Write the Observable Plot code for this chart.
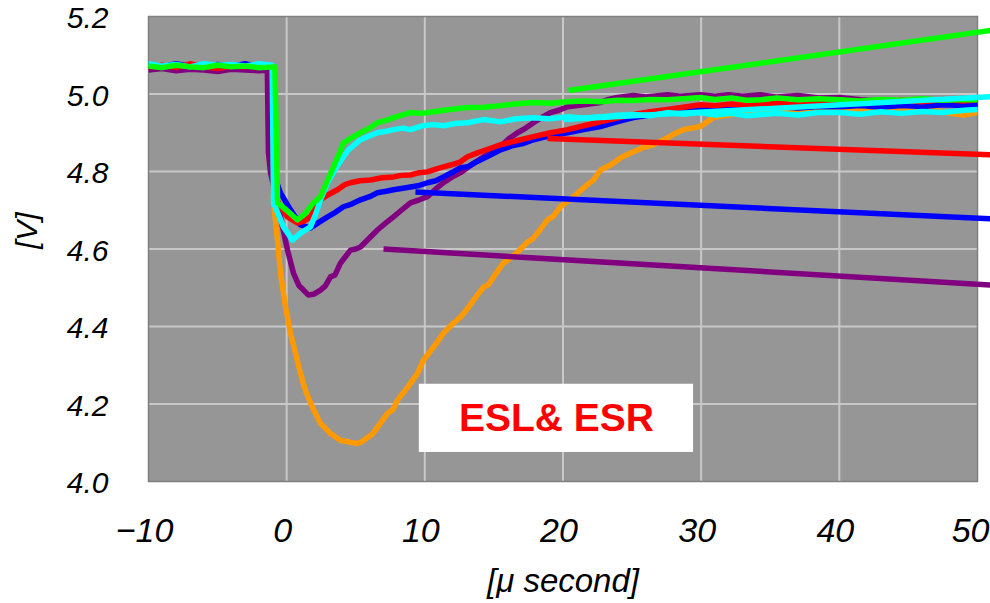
<!DOCTYPE html>
<html><head><meta charset="utf-8">
<script src="https://cdn.jsdelivr.net/npm/d3@7"></script>
<script src="https://cdn.jsdelivr.net/npm/@observablehq/plot@0.6"></script>
<style>body{margin:0;background:#fff;} svg{display:block;}</style>
</head><body><div id="chart"></div>
<script>
const xTicks = [-10, 0, 10, 20, 30, 40, 50];
const yTicks = [4.0, 4.2, 4.4, 4.6, 4.8, 5.0, 5.2];
const xGrid = [0, 10, 20, 30, 40];
const yGrid = [4.2, 4.4, 4.6, 4.8, 5.0];

const orange = [[-10,5.068],[-9,5.072],[-8,5.066],[-7,5.070],[-6,5.074],[-5,5.068],[-4,5.070],[-3,5.066],[-2,5.072],[-1.05,5.068],
[-0.95,4.72],[-0.66,4.623],[-0.45,4.538],[-0.08,4.450],[0.28,4.383],[0.64,4.331],[1.00,4.279],[1.36,4.235],[1.87,4.191],[2.45,4.150],[3.17,4.124],[3.90,4.106],[4.3,4.104],[4.62,4.101],[5.13,4.098],[5.5,4.104],[5.85,4.114],[6.2,4.122],[6.57,4.140],[7.30,4.176],[7.7,4.186],[8.02,4.210],[8.75,4.243],[9.47,4.279],[9.90,4.313],[10.63,4.347],[11.35,4.383],[12.07,4.409],[12.58,4.424],[13.1,4.447],[13.52,4.468],[14.25,4.502],[14.6,4.508],[14.97,4.528],[15.69,4.564],[16.2,4.576],[16.71,4.592],[17.43,4.618],[17.8,4.626],[18.15,4.641],[18.88,4.675],[19.3,4.684],[19.82,4.709],[20.76,4.735],[21.3,4.752],[21.77,4.766],[22.21,4.778],[22.71,4.804],[23.5,4.818],[24.2,4.836],[25.10,4.851],[25.8,4.862],[26.5,4.868],[27.56,4.887],[28.2,4.900],[28.72,4.908],[29.95,4.916],[30.5,4.930],[30.89,4.939],[32.12,4.947],[33,4.952],[34,4.956],[35,4.958],[36,4.962],[37,4.958],[38,4.962],[39,4.960],[40,4.962],[41,4.958],[42,4.962],[43,4.960],[44,4.958],[45,4.960],[46,4.956],[47,4.958],[48,4.950],[49,4.946],[50,4.952]];

const purple = [[-10,5.062],[-9,5.066],[-8,5.060],[-7,5.064],[-6,5.062],[-5,5.058],[-4,5.064],[-3,5.062],[-2,5.060],[-1.4,5.062],
[-1.32,4.85],[-1.17,4.797],[-0.8,4.74],[-0.45,4.683],[0.06,4.597],[0.49,4.538],[0.9,4.505],[1.22,4.494],[1.58,4.481],[2.0,4.484],[2.45,4.494],[2.8,4.505],[3.17,4.528],[3.5,4.533],[3.90,4.564],[4.62,4.597],[5.0,4.600],[5.34,4.605],[5.9,4.625],[6.57,4.649],[7.2,4.668],[7.73,4.683],[8.3,4.700],[8.96,4.719],[9.6,4.727],[10.19,4.735],[10.8,4.755],[11.35,4.771],[11.9,4.784],[12.58,4.797],[13.4,4.818],[14.25,4.838],[14.8,4.850],[15.48,4.864],[16.1,4.885],[16.71,4.900],[17.3,4.912],[17.86,4.926],[18.5,4.940],[19.09,4.952],[19.7,4.958],[20.33,4.967],[21.5,4.972],[22.71,4.978],[23.3,4.986],[23.94,4.991],[25.10,4.996],[26,4.992],[27.56,4.998],[28.5,4.994],[29.95,4.998],[31,4.994],[32,4.998],[33,4.994],[34.29,4.998],[35.5,4.992],[37,4.996],[38.5,4.990],[40.08,4.991],[41.5,4.985],[43,4.982],[44.43,4.978],[45.5,4.974],[47,4.978],[48.5,4.972],[50,4.974]];

const blue = [[-10,5.076],[-9,5.070],[-8,5.078],[-7,5.072],[-6,5.070],[-5,5.076],[-4,5.072],[-3,5.078],[-2,5.070],[-1.05,5.072],
[-0.95,4.786],[-0.7,4.77],[-0.45,4.745],[0.28,4.701],[1.00,4.662],[1.72,4.654],[2.3,4.668],[2.96,4.683],[3.5,4.694],[4.11,4.709],[4.7,4.716],[5.34,4.727],[6.0,4.735],[6.57,4.745],[7.2,4.749],[7.73,4.753],[8.3,4.756],[8.96,4.760],[9.6,4.764],[10.19,4.771],[10.8,4.776],[11.35,4.786],[12.0,4.798],[12.58,4.810],[13.09,4.812],[13.8,4.826],[14.6,4.840],[15.48,4.856],[16.3,4.866],[17.1,4.872],[17.86,4.882],[18.6,4.888],[19.4,4.894],[20.33,4.900],[21.5,4.908],[22.71,4.916],[23.9,4.928],[25.10,4.939],[26.3,4.946],[27.56,4.952],[28.7,4.956],[29.95,4.960],[31,4.964],[32.2,4.962],[33.3,4.966],[34.29,4.965],[35.5,4.968],[37,4.964],[38.5,4.968],[40.08,4.967],[41.5,4.970],[43,4.966],[44.5,4.970],[46,4.968],[47.5,4.972],[49,4.970],[50,4.972]];

const red = [[-10,5.070],[-9,5.074],[-8,5.068],[-7,5.078],[-6,5.070],[-5,5.066],[-4,5.072],[-3,5.070],[-2,5.076],[-1.05,5.070],
[-0.95,4.745],[-0.5,4.712],[0.06,4.683],[0.78,4.667],[1.25,4.672],[1.72,4.683],[2.45,4.727],[3.0,4.740],[3.68,4.753],[4.2,4.766],[4.62,4.771],[5.3,4.776],[6.07,4.778],[6.9,4.784],[7.73,4.786],[8.3,4.790],[8.96,4.791],[9.6,4.797],[10.19,4.799],[10.8,4.806],[11.35,4.812],[12.0,4.818],[12.58,4.825],[13.09,4.838],[13.8,4.848],[14.6,4.858],[15.48,4.869],[16.7,4.880],[17.86,4.890],[19.1,4.900],[20.33,4.908],[21.5,4.918],[22.71,4.928],[23.9,4.938],[25.10,4.947],[26.3,4.954],[27.56,4.960],[28.7,4.966],[29.95,4.972],[31,4.970],[32.2,4.974],[33.3,4.970],[34.29,4.972],[35.5,4.976],[37,4.972],[38.5,4.978],[40.08,4.978],[41.5,4.982],[43,4.978],[44.5,4.984],[46,4.980],[47.5,4.986],[49,4.982],[50,4.985]];

const cyan = [[-10,5.078],[-9,5.072],[-8,5.076],[-7,5.070],[-6,5.078],[-5,5.074],[-4,5.076],[-3,5.072],[-2,5.078],[-1.05,5.074],
[-0.95,4.719],[-0.23,4.657],[0.42,4.623],[1.00,4.641],[1.72,4.657],[2.1,4.690],[2.45,4.727],[2.96,4.771],[3.5,4.805],[4.11,4.838],[4.47,4.856],[5.34,4.882],[6.0,4.892],[6.57,4.900],[7.2,4.904],[7.73,4.908],[8.4,4.912],[8.96,4.908],[9.8,4.918],[10.63,4.921],[11.4,4.918],[12.2,4.924],[13.09,4.926],[13.7,4.930],[14.25,4.934],[15.48,4.928],[16.6,4.936],[17.86,4.939],[19,4.936],[20.33,4.941],[21.5,4.938],[22.71,4.941],[23.9,4.945],[25.10,4.947],[26.3,4.944],[27.56,4.952],[28.7,4.948],[29.95,4.952],[31,4.946],[32.2,4.950],[33.3,4.944],[34.29,4.947],[35.5,4.950],[37,4.946],[38.5,4.952],[40.08,4.952],[41.5,4.948],[43,4.954],[44.5,4.950],[46,4.955],[47.5,4.952],[49,4.958],[50,4.960]];

const green = [[-10,5.072],[-9,5.068],[-8,5.074],[-7,5.070],[-6,5.068],[-5,5.074],[-4,5.070],[-3,5.072],[-2,5.068],[-0.85,5.070],
[-0.66,4.719],[0.0,4.700],[0.78,4.675],[1.3,4.690],[1.94,4.719],[2.45,4.735],[2.96,4.778],[3.39,4.812],[4.11,4.874],[4.6,4.885],[5.34,4.900],[6.0,4.912],[6.57,4.926],[7.2,4.932],[7.73,4.939],[8.4,4.946],[8.96,4.952],[9.8,4.950],[10.63,4.954],[11.8,4.960],[13.09,4.965],[14.3,4.966],[15.48,4.970],[16.7,4.975],[17.86,4.978],[19.1,4.976],[20.33,4.980],[21.5,4.982],[22.71,4.980],[23.9,4.984],[25.10,4.983],[26.3,4.986],[27.56,4.985],[28.7,4.988],[29.95,4.991],[31,4.986],[32.2,4.990],[33.3,4.984],[34.29,4.985],[35.5,4.990],[37,4.985],[38.5,4.988],[40.08,4.985],[41.5,4.982],[43,4.986],[44.5,4.984],[46,4.988],[47.5,4.984],[49,4.986],[50,4.985]];

// fitted straight lines (tangents)
const greenFit  = [[20.4,5.009],[50.94,5.164]];
const cyanFit   = [[20.0,4.934],[50.94,4.993]];
const redFit    = [[18.88,4.885],[50.94,4.843]];
const blueFit   = [[9.32,4.747],[50.94,4.678]];
const purpleFit = [[7.01,4.600],[50.94,4.507]];

const annotation = [{x1: 9.6, x2: 29.45, y1: 4.075, y2: 4.251, label: "ESL& ESR"}];

const fmtX = d => d < 0 ? "\u2212" + Math.abs(d) : String(d);
const font = "'Liberation Sans', Arial, sans-serif";

const ln = (data, color) => Plot.line(data, {x: d => d[0], y: d => d[1], stroke: color, strokeWidth: 5.5, strokeLinejoin: "round", strokeLinecap: "butt"});

const chart = Plot.plot({
  width: 990, height: 603,
  marginLeft: 148, marginRight: 13, marginTop: 16, marginBottom: 122,
  style: {fontFamily: font, background: "#fff", overflow: "visible"},
  x: {domain: [-10, 50], axis: null},
  y: {domain: [4.0, 5.2], axis: null},
  marks: [
    Plot.frame({fill: "#969696"}),
    Plot.ruleX(xGrid, {stroke: "#c8c8c8", strokeWidth: 2}),
    Plot.ruleY(yGrid, {stroke: "#c8c8c8", strokeWidth: 2}),
    Plot.frame({stroke: "#808080", strokeWidth: 1.5}),
    Plot.rect(annotation, {x1: "x1", x2: "x2", y1: "y1", y2: "y2", fill: "white"}),
    Plot.text(annotation, {x: d => (d.x1 + d.x2) / 2, y: d => (d.y1 + d.y2) / 2, text: "label", fill: "#ff0000", fontSize: 39, fontWeight: "bold", fontFamily: font}),
    ln(orange, "#ff9900"),
    ln(purple, "#800080"),
    ln(blue, "#0000ff"),
    ln(red, "#ff0000"),
    ln(cyan, "#00ffff"),
    ln(green, "#00ff00"),
    ln(purpleFit, "#800080"),
    ln(blueFit, "#0000ff"),
    ln(redFit, "#ff0000"),
    ln(cyanFit, "#00ffff"),
    ln(greenFit, "#00ff00"),
    Plot.text(xTicks.slice(0, -1), {x: d => d, text: fmtX, frameAnchor: "bottom", lineAnchor: "middle", dy: 50, dx: -4, fontSize: 34, fontStyle: "italic", fill: "#000"}),
    Plot.text(xTicks.slice(-1), {x: d => d, text: fmtX, frameAnchor: "bottom", lineAnchor: "middle", dy: 50, dx: 12, textAnchor: "end", fontSize: 34, fontStyle: "italic", fill: "#000"}),
    Plot.text(yTicks, {y: d => d, text: d => d.toFixed(1), frameAnchor: "left", dx: -40, dy: 2, textAnchor: "end", fontSize: 30, fontStyle: "italic", fill: "#000"}),
    Plot.text(["[\u03bc second]"], {text: d => d, frameAnchor: "bottom", lineAnchor: "middle", dy: 100, fontSize: 33, fontStyle: "italic", fill: "#000"}),
    Plot.text(["[V]"], {text: d => d, frameAnchor: "left", dx: -121, rotate: -90, fontSize: 30, fontStyle: "italic", fill: "#000"})
  ]
});
document.getElementById("chart").appendChild(chart);
</script>
</body></html>
